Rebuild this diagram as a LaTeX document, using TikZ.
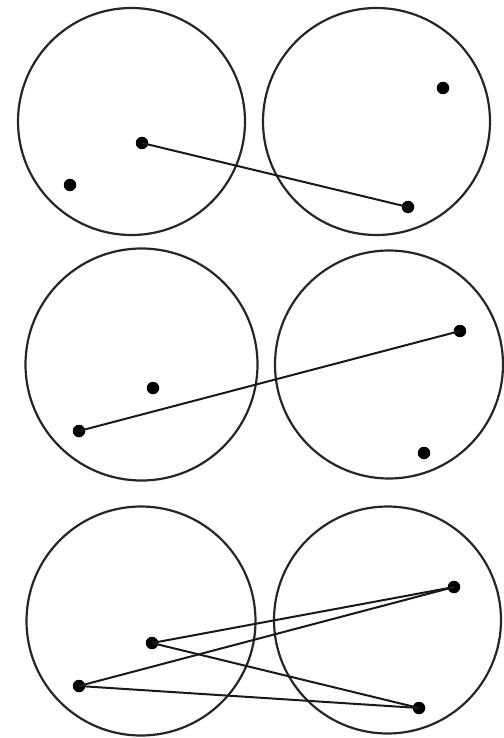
\documentclass[tikz,border=0pt]{standalone}
\begin{document}
\begin{tikzpicture}[x=1pt,y=-1pt,
  ring/.style={draw=black!85,line width=2.2pt},
  pt/.style={circle,fill=black,inner sep=0pt,minimum size=12.5pt},
  link/.style={draw=black!90,line width=2pt}]
\useasboundingbox (0,0) rectangle (503,738);
% row 1
\draw[ring] (131.5,121.5) circle (113.5);
\draw[ring] (376.5,121.5) circle (113.5);
\node[pt] (a1) at (142,143) {};
\node[pt] (a2) at (70,185) {};
\node[pt] (a3) at (443,88) {};
\node[pt] (a4) at (408,207) {};
\draw[link] (a1.center) -- (a4.center);
% row 2
\draw[ring] (141.5,364.5) circle (116);
\draw[ring] (389,364.5) circle (114);
\node[pt] (b1) at (153,388) {};
\node[pt] (b2) at (79,431) {};
\node[pt] (b3) at (460,331) {};
\node[pt] (b4) at (424,453) {};
\draw[link] (b2.center) -- (b3.center);
% row 3
\draw[ring] (141,621) circle (114.5);
\draw[ring] (387.5,620) circle (113.5);
\node[pt] (c1) at (152,643) {};
\node[pt] (c2) at (79,686) {};
\node[pt] (c3) at (454,587) {};
\node[pt] (c4) at (419,708) {};
\draw[link] (c1.center) -- (c3.center);
\draw[link] (c2.center) -- (c3.center);
\draw[link] (c1.center) -- (c4.center);
\draw[link] (c2.center) -- (c4.center);
\end{tikzpicture}
\end{document}
